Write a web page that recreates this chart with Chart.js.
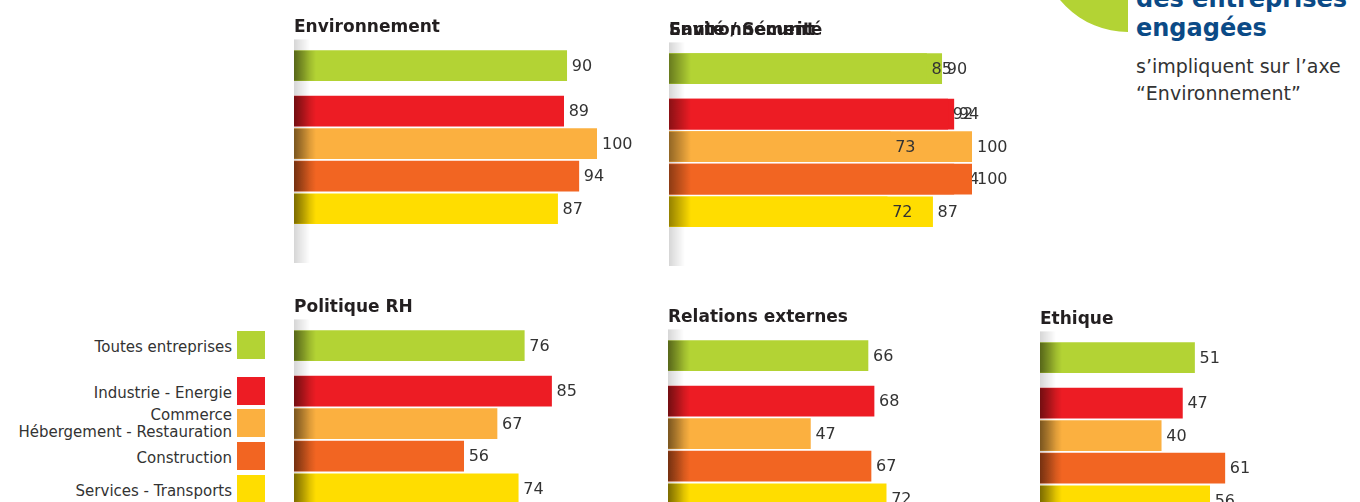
<!DOCTYPE html>
<html lang="fr">
<head>
<meta charset="utf-8">
<script src="https://cdn.jsdelivr.net/npm/chart.js@4.4.1/dist/chart.umd.min.js"></script>
<style>
    html, body {
        margin: 0;
        padding: 0;
        width: 1360px;
        height: 502px;
        overflow: hidden;
        background: #fff;
        font-family: "DejaVu Sans", sans-serif;
    }
    canvas.panel { position: absolute; }
    #ring { position: absolute; left: 1040px; top: -144px; width: 88px; height: 176px; overflow: hidden; }
    .blue { position: absolute; left: 1136px; font-size: 24px; line-height: 24px; font-weight: bold; color: #0b4a86; white-space: nowrap; }
    .grey { position: absolute; left: 1136px; font-size: 19px; line-height: 19px; color: #333; white-space: nowrap; }
    .lg-text { position: absolute; left: 0; width: 232px; text-align: right; font-size: 15px; line-height: 17px; color: #333; }
    .lg-box { position: absolute; left: 237px; width: 28px; height: 28px; }
</style>
</head>
<body>
<div id="ring"><canvas id="ringChart" width="176" height="176"></canvas></div>
<div class="blue" style="top:-13px">des entreprises</div>
<div class="blue" style="top:16px">engagées</div>
<div class="grey" style="top:57px">s’impliquent sur l’axe</div>
<div class="grey" style="top:84px">“Environnement”</div>

<canvas class="panel" id="envChart" width="360" height="246" style="left:294px;top:17px"></canvas>
<canvas class="panel" id="envBisChart" width="360" height="246" style="left:669px;top:20px"></canvas>
<canvas class="panel" id="santeChart" width="360" height="246" style="left:669px;top:20px"></canvas>
<canvas class="panel" id="rhChart" width="360" height="246" style="left:294px;top:297px"></canvas>
<canvas class="panel" id="relChart" width="360" height="246" style="left:668px;top:307px"></canvas>
<canvas class="panel" id="ethChart" width="360" height="246" style="left:1040px;top:309px"></canvas>
<div id="legend"></div>

<script>
const categories = [
    "Toutes entreprises",
    "Industrie - Energie",
    ["Commerce", "Hébergement - Restauration"],
    "Construction",
    "Services - Transports",
];
const colors = ["#b3d334", "#ed1c24", "#fbb040", "#f26522", "#ffdd00"];

const envValues = [90, 89, 100, 94, 87];
const envBisValues = [90, 94, 100, 94, 87];
const santeValues = [85, 92, 73, 100, 72];
const rhValues = [76, 85, 67, 56, 74];
const relationsValues = [66, 68, 47, 67, 72];
const ethiqueValues = [51, 47, 40, 61, 56];
const envShare = 90;

const FONT = "'DejaVu Sans', sans-serif";
// first row stands apart from the sectors
const GROUP_GAP = 0.4;
const rowPos = (i) => (i === 0 ? 0 : i + GROUP_GAP);

/*
 * Value written after each bar */
const valueLabels = {
    id: "valueLabels",
    afterDatasetsDraw(chart) {
        const ctx = chart.ctx;
        const ds = chart.data.datasets[0];
        ctx.save();
        ctx.font = "16px " + FONT;
        ctx.fillStyle = "#333";
        ctx.textBaseline = "middle";
        chart.getDatasetMeta(0).data.forEach((bar, i) => {
            ctx.fillText(String(ds.data[i].x), bar.x + 5, bar.y + 1);
        });
        ctx.restore();
    },
};

/*
 * Soft shadow on the left edge of the panel and of the bars */
const leftShade = {
    id: "leftShade",
    afterDatasetsDraw(chart, args, opts) {
        const { ctx, chartArea } = chart;
        const left = chartArea.left;
        ctx.save();
        if (opts.strip) {
            const g = ctx.createLinearGradient(left, 0, left + 16, 0);
            g.addColorStop(0, "rgba(0,0,0,0.16)");
            g.addColorStop(1, "rgba(0,0,0,0)");
            ctx.fillStyle = g;
            ctx.fillRect(left, chartArea.top - 10, 16, chartArea.bottom - chartArea.top + 10);
        }
        const b = ctx.createLinearGradient(left, 0, left + 22, 0);
        b.addColorStop(0, "rgba(0,0,0,0.42)");
        b.addColorStop(1, "rgba(0,0,0,0)");
        ctx.fillStyle = b;
        chart.getDatasetMeta(0).data.forEach((bar) => {
            ctx.fillRect(left, bar.y - bar.height / 2, 22, bar.height);
        });
        ctx.restore();
    },
};

const barPanel = (id, title, values, strip) => {
    new Chart(document.getElementById(id), {
        type: "bar",
        data: {
            datasets: [
                {
                    data: values.map((v, i) => ({ x: v, y: rowPos(i) })),
                    backgroundColor: colors,
                    borderWidth: 0,
                    barThickness: 30,
                },
            ],
        },
        options: {
            indexAxis: "y",
            responsive: false,
            animation: false,
            layout: { padding: { left: 0, right: 57, top: 0, bottom: 0 } },
            scales: {
                x: { type: "linear", min: 0, max: 100, display: false },
                y: {
                    type: "linear",
                    min: -0.5,
                    max: 6.07,
                    reverse: true,
                    offset: false,
                    grid: { offset: false },
                    display: false,
                },
            },
            plugins: {
                legend: { display: false },
                tooltip: { enabled: false },
                title: {
                    display: true,
                    text: title,
                    align: "start",
                    color: "#231f20",
                    font: { family: FONT, size: 17, weight: "bold" },
                    padding: { top: 0, bottom: 12 },
                },
                leftShade: { strip: strip },
            },
        },
        plugins: [leftShade, valueLabels],
    });
};

barPanel("envChart", "Environnement", envValues, true);
barPanel("envBisChart", "Environnement", envBisValues, true);
barPanel("santeChart", "Santé / Sécurité", santeValues, false);
barPanel("rhChart", "Politique RH", rhValues, true);
barPanel("relChart", "Relations externes", relationsValues, true);
barPanel("ethChart", "Ethique", ethiqueValues, true);

/*
 * Ring of the headline share */
new Chart(document.getElementById("ringChart"), {
    type: "doughnut",
    data: {
        datasets: [
            {
                data: [envShare, 100 - envShare],
                backgroundColor: [colors[0], "#ffffff"],
                borderWidth: 0,
            },
        ],
    },
    options: {
        responsive: false,
        animation: false,
        cutout: "62%",
        rotation: 180,
        plugins: { legend: { display: false }, tooltip: { enabled: false } },
    },
});

/*
 * Sector legend on the left */
const legend = document.getElementById("legend");
const LEGEND_TOP = 345;
const LEGEND_PITCH = 32.7;
categories.forEach((cat, i) => {
    const center = LEGEND_TOP + rowPos(i) * LEGEND_PITCH;
    const lines = Array.isArray(cat) ? cat : [cat];
    const text = document.createElement("div");
    text.className = "lg-text";
    text.innerHTML = lines.join("<br>");
    text.style.top = (lines.length === 1 ? center - 6 : center - 16.5) + "px";
    legend.appendChild(text);
    const box = document.createElement("div");
    box.className = "lg-box";
    box.style.top = center - 14 + "px";
    box.style.background = colors[i];
    legend.appendChild(box);
});
</script>
</body>
</html>
